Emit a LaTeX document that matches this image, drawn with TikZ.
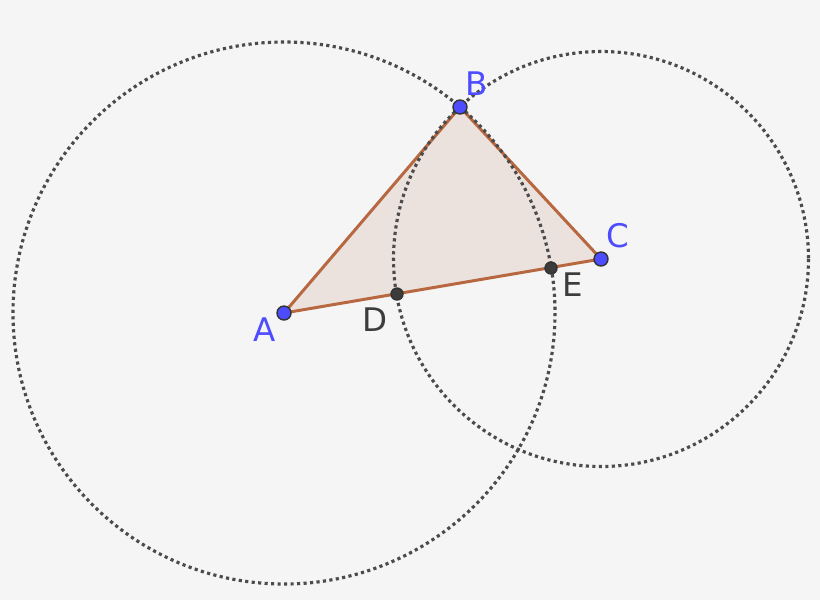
\documentclass[tikz,border=0pt]{standalone}
\usepackage{fontspec}
\setmainfont{DejaVu Sans}
\definecolor{bgcol}{RGB}{245,245,245}
\definecolor{ptblue}{RGB}{77,77,255}
\definecolor{ptgray}{RGB}{60,60,60}
\definecolor{edgecol}{RGB}{184,104,64}
\definecolor{fillcol}{RGB}{236,226,221}
\definecolor{circcol}{RGB}{75,75,75}
\tikzset{
    circ/.style={circcol, line width=1.8pt, dash pattern=on 1.8pt off 1.9pt},
    tri/.style={edgecol, line width=1.7pt, fill=fillcol},
    bluept/.style={circle, draw=black!80, fill=ptblue, line width=0.8pt, inner sep=0pt, minimum size=0.28cm},
    graypt/.style={circle, draw=black!80, fill=ptgray, line width=0.8pt, inner sep=0pt, minimum size=0.24cm},
    bluelbl/.style={text=ptblue, font=\fontsize{18.5}{18.5}\selectfont},
    graylbl/.style={text=ptgray, font=\fontsize{18.5}{18.5}\selectfont}
}

\begin{document}
\begin{tikzpicture}[x=0.02cm, y=-0.02cm]
    \fill[bgcol] (0, 0) rectangle (820, 600);
    \useasboundingbox (0, 0) rectangle (820, 600);
    % vertices and cut points
    \coordinate (pA) at (284, 313);
    \coordinate (pB) at (460, 107);
    \coordinate (pC) at (601, 259);
    \coordinate (pD) at (397, 294);
    \coordinate (pE) at (551, 268);
    % triangle
    \draw[tri] (pA) -- (pB) -- (pC) -- cycle;
    % circles through B
    \draw[circ] (pA) circle (271);
    \draw[circ] (pC) circle (207.5);
    % points
    \node[bluept] (A) at (pA) {};
    \node[bluept] (B) at (pB) {};
    \node[bluept] (C) at (pC) {};
    \node[graypt] (D) at (pD) {};
    \node[graypt] (E) at (pE) {};
    % labels
    \node[bluelbl] (lA) at (265, 330) {A};
    \node[bluelbl] (lB) at (477, 84) {B};
    \node[bluelbl] (lC) at (618, 236) {C};
    \node[graylbl] (lD) at (375, 320) {D};
    \node[graylbl] (lE) at (573, 285) {E};
\end{tikzpicture}
\end{document}
